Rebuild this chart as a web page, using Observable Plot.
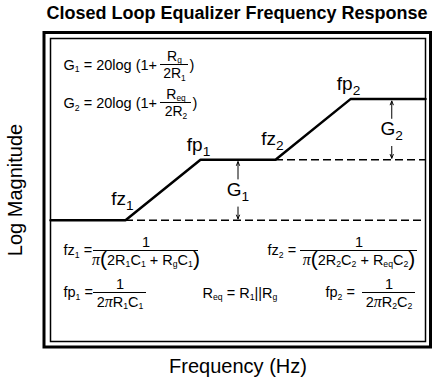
<!DOCTYPE html>
<html><head><meta charset="utf-8">
<script src="https://cdn.jsdelivr.net/npm/d3@7"></script>
<script src="https://cdn.jsdelivr.net/npm/@observablehq/plot@0.6"></script>
<style>body{margin:0;background:#fff;}</style>
</head><body><div id="chart"></div>
<script>
// ---- data ----
const freq = [0, 20, 40, 60, 80, 100];
const magnitude = [0, 0, 1, 1, 2, 2];
const zeroFreq = [20, 60];
const zeroMag = [0, 1];
const zeroLabels = ["fz_1", "fz_2"];
const poleFreq = [40, 80];
const poleMag = [1, 2];
const poleLabels = ["fp_1", "fp_2"];
const dashStart = [20, 60];
const dashLevel = [0, 1];
const gainFreq = [50, 91];
const gainLow = [0, 1];
const gainHigh = [1, 2];
const gainLabels = ["G_1", "G_2"];
const title = "Closed Loop Equalizer Frequency Response";
const xLabel = "Frequency (Hz)";
const yLabel = "Log Magnitude";
const gainLead = ["G_1 = 20log (1+", "G_2 = 20log (1+"];
const gainNum = ["R_g", "R_{eq}"];
const gainDen = ["2R_1", "2R_2"];
const freqLead = ["fz_1 =", "fp_1 =", "fz_2 =", "fp_2 ="];
const freqNum = ["1", "1", "1", "1"];
const freqDen = ["π⦅2R_1C_1 + R_gC_1⦆", "2πR_1C_1", "π⦅2R_2C_2 + R_{eq}C_2⦆", "2πR_2C_2"];
const reqFormula = "R_{eq} = R_1||R_g";

// ---- layout ----
const W = 432, H = 381, ML = 50, MR = 7, MT = 38, MB = 40;
const xDom = [0, 100], yDom = [-2, 3];
const px2x = px => xDom[0] + (px - ML) / (W - ML - MR) * (xDom[1] - xDom[0]);
const py2y = py => yDom[0] + (H - MB - py) / (H - MB - MT) * (yDom[1] - yDom[0]);

// text placed with its baseline at pixel "base"
function note(str, px, base, fs, anchor = "start", extra = {}) {
  return Plot.text([str], {
    x: px2x(px), y: py2y(base - 0.32 * fs), text: d => d,
    fontSize: fs, textAnchor: anchor, fill: "black", ...extra
  });
}
function bar(a, b, py) {
  return Plot.ruleY([py2y(py)], {x1: px2x(a), x2: px2x(b), stroke: "black", strokeWidth: 1});
}

const marks = [];
// frames
marks.push(Plot.frame({stroke: "black", strokeWidth: 1.5}));
marks.push(Plot.frame({stroke: "black", strokeWidth: 3, insetLeft: -6.5, insetTop: -6, insetRight: -5, insetBottom: -5.5}));
// dashed reference levels
marks.push(Plot.ruleY(dashLevel.map((v, i) => i), {y: i => dashLevel[i], x1: i => dashStart[i], x2: xDom[1], stroke: "black", strokeWidth: 1.5, strokeDasharray: "8,4"}));
// response curve
marks.push(Plot.line(freq.map((f, i) => i), {x: i => freq[i], y: i => magnitude[i], stroke: "black", strokeWidth: 2.5, strokeLinejoin: "miter"}));
// corner labels
marks.push(Plot.text(zeroLabels.map((d, i) => i), {x: i => zeroFreq[i], y: i => zeroMag[i], text: i => zeroLabels[i], fontSize: 19, dx: -3, dy: -21, fill: "black"}));
marks.push(Plot.text(poleLabels.map((d, i) => i), {x: i => poleFreq[i], y: i => poleMag[i], text: i => poleLabels[i], fontSize: 19, dx: -2, dy: -15, fill: "black"}));
// gain arrows + labels
const gi = gainLabels.map((d, i) => i);
const mid = i => (gainLow[i] + gainHigh[i]) / 2;
marks.push(Plot.arrow(gi, {x1: i => gainFreq[i], x2: i => gainFreq[i], y1: mid, y2: i => gainHigh[i], insetStart: 11, insetEnd: 2, headLength: 6, headAngle: 45, strokeWidth: 1, stroke: "black"}));
marks.push(Plot.arrow(gi, {x1: i => gainFreq[i], x2: i => gainFreq[i], y1: mid, y2: i => gainLow[i], insetStart: 17, insetEnd: 1.5, headLength: 6, headAngle: 45, strokeWidth: 1, stroke: "black"}));
marks.push(Plot.text(gi, {x: i => gainFreq[i], y: mid, text: i => gainLabels[i], fontSize: 19, fill: "black"}));

// gain formulas
const gBase = [69, 107.5], gBar = [64, 102], gBarX = [[160, 188], [160, 191]];
gainLead.forEach((s, i) => {
  marks.push(note(s, 63, gBase[i], 14.5));
  marks.push(bar(gBarX[i][0], gBarX[i][1], gBar[i]));
  const c = (gBarX[i][0] + gBarX[i][1]) / 2;
  marks.push(note(gainNum[i], c, gBar[i] - 4, 14, "middle"));
  marks.push(note(gainDen[i], c, gBar[i] + 13.5, 14, "middle"));
  marks.push(note(")", gBarX[i][1] + 1, gBase[i], 14.5));
});
// frequency formulas
const fLeadX = [63, 63, 267, 325], fBarY = [250, 292, 250, 292];
const fBarX = [[93, 198], [93, 146], [300, 417], [362, 415]];
freqLead.forEach((s, i) => {
  marks.push(note(s, fLeadX[i], fBarY[i] + 4.5, 14.5));
  marks.push(bar(fBarX[i][0], fBarX[i][1], fBarY[i]));
  const c = (fBarX[i][0] + fBarX[i][1]) / 2;
  marks.push(note(freqNum[i], c, fBarY[i] - 4, 14.5, "middle"));
  marks.push(note(freqDen[i], c, fBarY[i] + 14, 14.5, "middle"));
});
marks.push(note(reqFormula, 202, 297, 14.5));

// titles
marks.push(note(title, 236.5, 18.5, 18, "middle", {fontWeight: "bold", letterSpacing: "-0.2px"}));
marks.push(note(xLabel, 237.5, 372, 20, "middle"));
marks.push(Plot.text([yLabel], {x: px2x(15), y: py2y(189.5), text: d => d, rotate: -90, fontSize: 20, fill: "black"}));

const svg = Plot.plot({
  width: W, height: H,
  marginLeft: ML, marginRight: MR, marginTop: MT, marginBottom: MB,
  x: {domain: xDom, axis: null},
  y: {domain: yDom, axis: null},
  style: {fontFamily: "'Liberation Sans', Arial, Helvetica, sans-serif", background: "white", overflow: "visible", color: "black"},
  marks
});
document.getElementById("chart").appendChild(svg);

// ---- rich text: subscripts, italic pi, large parentheses ----
const NS = "http://www.w3.org/2000/svg";
function parse(s) {
  const out = []; let buf = "";
  const flush = () => { if (buf) { out.push({t: buf, kind: "n"}); buf = ""; } };
  for (let i = 0; i < s.length; i++) {
    const c = s[i];
    if (c === "_") {
      flush();
      if (s[i + 1] === "{") { const j = s.indexOf("}", i); out.push({t: s.slice(i + 2, j), kind: "sub"}); i = j; }
      else { out.push({t: s[i + 1], kind: "sub"}); i++; }
    } else if (c === "π") { flush(); out.push({t: "π", kind: "pi"}); }
    else if (c === "⦅") { flush(); out.push({t: "(", kind: "big"}); }
    else if (c === "⦆") { flush(); out.push({t: ")", kind: "big"}); }
    else buf += c;
  }
  flush();
  return out;
}
svg.querySelectorAll("text").forEach(el => {
  const s = el.textContent;
  el.style.whiteSpace = "pre";
  if (!/[_π⦅⦆]/.test(s)) return;
  const fs = parseFloat(getComputedStyle(el).fontSize);
  const subScale = fs >= 17 ? 0.72 : 0.6;
  const subShift = fs >= 17 ? fs * 0.25 : fs * 0.2;
  while (el.firstChild) el.removeChild(el.firstChild);
  let off = 0;
  parse(s).forEach(tk => {
    const t = document.createElementNS(NS, "tspan");
    t.textContent = tk.t;
    let target = 0;
    if (tk.kind === "sub") { target = subShift; t.setAttribute("font-size", fs * subScale); }
    if (tk.kind === "big") { target = fs * 0.12; t.setAttribute("font-size", fs * 1.45); }
    if (tk.kind === "pi") { t.setAttribute("font-family", "'Liberation Serif', 'DejaVu Serif', serif"); t.setAttribute("font-style", "italic"); t.setAttribute("font-size", fs * 1.1); }
    if (target !== off) { t.setAttribute("dy", target - off); off = target; }
    el.appendChild(t);
  });
});
</script>
</body></html>
